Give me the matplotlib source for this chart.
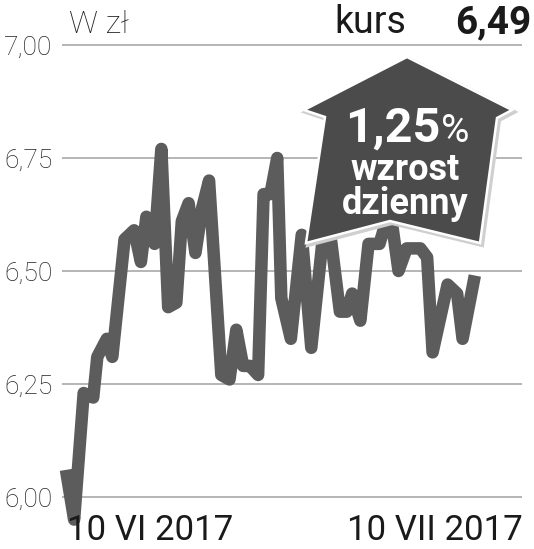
import matplotlib
matplotlib.use('Agg')
import matplotlib.pyplot as plt
from matplotlib.patches import Polygon
from matplotlib.ticker import FuncFormatter

# days since 10 VI 2017, exchange rate in zl
days = [0.0, 0.6, 1.3, 2.0, 2.3, 3.0, 3.4, 4.3, 5.0, 5.5, 5.9, 6.5, 7.0, 7.5, 8.1,
        8.5, 9.0, 9.5, 10.0, 10.5, 11.4, 12.0, 12.5, 13.0, 13.5, 14.1, 14.5, 15.0,
        15.5, 15.8, 16.5, 17.3, 18.0, 18.8, 19.4, 20.1, 20.6, 21.0, 21.6, 22.2,
        23.0, 23.5, 23.9, 24.4, 25.0, 26.0, 26.5, 26.9, 28.0, 28.7, 29.1, 30.0]
kurs = [6.06, 5.95, 6.23, 6.22, 6.31, 6.35, 6.31, 6.57, 6.59, 6.52, 6.62, 6.56, 6.77,
        6.42, 6.43, 6.61, 6.65, 6.54, 6.64, 6.70, 6.27, 6.26, 6.37, 6.29, 6.29, 6.27,
        6.67, 6.67, 6.75, 6.44, 6.35, 6.58, 6.33, 6.56, 6.58, 6.41, 6.41, 6.45, 6.39,
        6.56, 6.56, 6.61, 6.61, 6.50, 6.55, 6.55, 6.53, 6.32, 6.47, 6.45, 6.35, 6.49]
yticks = [6.00, 6.25, 6.50, 6.75, 7.00]
x_labels = ['10 VI 2017', '10 VII 2017']
last_value = '6,49'
change = '1,25'

W, H = 534, 549
fig = plt.figure(figsize=(W / 100, H / 100), dpi=100)
fig.patch.set_facecolor('white')

def fx(px):
    return px / W

def fy(py):
    return 1 - py / H

ax = fig.add_axes([fx(62), fy(530), (522 - 62) / W, (530 - 40) / H])
ax.plot(days, kurs, color='#5c5c5c', lw=9, solid_joinstyle='round',
        solid_capstyle='butt', clip_on=False, zorder=3)
ax.set_xlim(-0.29, 33.46)
ax.set_ylim(5.927, 7.011)
ax.set_yticks(yticks)
ax.yaxis.set_major_formatter(FuncFormatter(lambda v, p: ('%.2f' % v).replace('.', ',')))
ax.set_xticks([])
ax.grid(axis='y', color='#b5b5b5', lw=1.4, zorder=1)
ax.tick_params(axis='y', length=0, pad=7, labelsize=19, labelcolor='#222222')
for lab in ax.get_yticklabels():
    lab.set_family('Roboto')
    lab.set_weight('light')
for s in ax.spines.values():
    s.set_visible(False)
ax.set_facecolor('none')

# header
fig.text(fx(69), fy(33), 'W zł', family='Roboto', weight='light', fontsize=23,
         color='#222222', va='baseline', ha='left')
fig.text(fx(334), fy(33), 'kurs', family='Roboto', fontsize=27,
         color='#1a1a1a', va='baseline', ha='left')
fig.text(fx(531), fy(33), last_value, family='Roboto', weight='bold', fontsize=28,
         color='#1a1a1a', va='baseline', ha='right')

# x labels
fig.text(fx(67), fy(540), x_labels[0], family='Roboto', fontsize=25,
         color='#1a1a1a', va='baseline', ha='left')
fig.text(fx(523), fy(540), x_labels[1], family='Roboto', fontsize=25,
         color='#1a1a1a', va='baseline', ha='right')

# arrow badge
arrow_px = [(407, 57), (512, 110), (497, 118), (480, 243), (390, 221),
            (306, 243), (325, 117), (304, 110)]
shadow = Polygon([(fx(x + 2), fy(y + 2)) for x, y in arrow_px], closed=True,
                 transform=fig.transFigure, facecolor='#cfcfcf', edgecolor='#cfcfcf',
                 lw=3, zorder=9)
badge = Polygon([(fx(x), fy(y)) for x, y in arrow_px], closed=True,
                transform=fig.transFigure, facecolor='#4b4b4b', edgecolor='white',
                lw=1.8, joinstyle='miter', zorder=10)
fig.add_artist(shadow)
fig.add_artist(badge)

fig.text(fx(393), fy(142), change, family='Roboto', weight='bold', fontsize=35,
         color='white', va='baseline', ha='center', zorder=11)
fig.text(fx(441), fy(142), '%', family='Roboto', fontsize=28,
         color='white', va='baseline', ha='left', zorder=11)
fig.text(fx(405), fy(180), 'wzrost', family='Roboto', weight='bold', fontsize=26,
         color='white', va='baseline', ha='center', zorder=11)
fig.text(fx(405), fy(214), 'dzienny', family='Roboto', weight='bold', fontsize=26,
         color='white', va='baseline', ha='center', zorder=11)

fig.savefig('out.png', dpi=100, facecolor='white')
